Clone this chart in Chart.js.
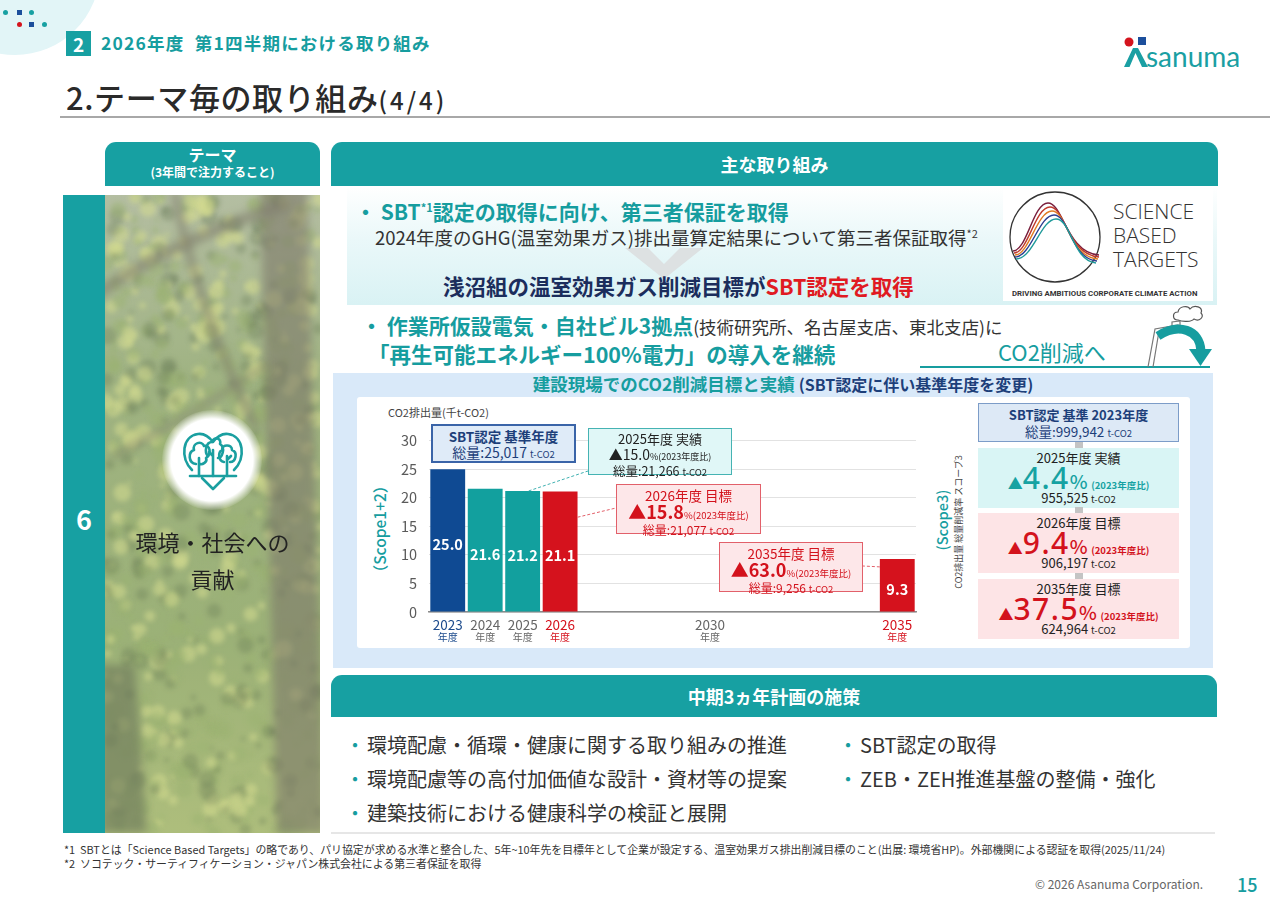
<!DOCTYPE html>
<html lang="ja">
<head>
<meta charset="utf-8">
<title>2.テーマ毎の取り組み(4/4)</title>
<script src="https://cdn.jsdelivr.net/npm/chart.js@4.4.1/dist/chart.umd.min.js"></script>
<style>
  body { margin: 0; background: #fff; }
  #slide { position: relative; width: 1280px; height: 904px; overflow: hidden;
    font-family: "Noto Sans CJK JP", "Noto Sans", sans-serif; color: #222; }
  .a { position: absolute; white-space: nowrap; line-height: 1; }
  .tab { position: absolute; background: #17a0a2; color: #fff; font-weight: bold; text-align: center; border-radius: 11px 11px 0 0; }
  .tealb { color: #169d9f; font-weight: bold; }
  .dot { position: absolute; width: 5px; height: 5px; }
  .note { position: absolute; text-align: center; box-sizing: border-box; white-space: nowrap; }
  .note.cy { background: #e0f7f7; border: 1.5px solid #45b3b3; color: #222; padding-top: 3px; }
  .note.pk { background: #fde7e9; border: 1.5px solid #e2606a; color: #d3121c; padding-top: 2px; }
  .note div { line-height: 14.5px; }
  .s3box { position: absolute; left: 0; width: 201px; height: 60px; text-align: center; white-space: nowrap; }
  .s3box.cy { background: #d9f5f5; }
  .s3box.pk { background: #fde4e6; }
  .s3t { line-height: 18px; font-size: 13px; color: #222; padding-top: 1px; }
  .s3p { line-height: 22px; height: 22px; }
  .s3v { line-height: 18px; font-size: 13px; color: #222; }
  .big { font-family: "Noto Sans", sans-serif; font-weight: 500; font-size: 30px; letter-spacing: 1.5px; }
  .u { font-size: 9.5px; }
  .conn { position: absolute; left: 97px; width: 8px; height: 6px; background: #c4c4c4; }
  .bul { position: absolute; white-space: nowrap; line-height: 1; font-size: 20px; color: #333; }
  .bul:before { content: "・"; color: #169d9f; margin-right: 2px; }
</style>
</head>
<body>
<div id="slide">

  <!-- top left deco -->
  <div class="a" style="left:-70px;top:-115px;width:170px;height:170px;border-radius:50%;background:#e2f5f7"></div>
  <div class="dot" style="left:3px;top:10px;border-radius:50%;background:#17a0a2"></div>
  <div class="dot" style="left:17px;top:10px;background:#1c4f9c"></div>
  <div class="dot" style="left:29px;top:10px;border-radius:50%;background:#17a0a2"></div>
  <div class="dot" style="left:17px;top:22px;border-radius:50%;background:#d4141d"></div>
  <div class="dot" style="left:29px;top:22px;background:#1c4f9c"></div>
  <div class="dot" style="left:42px;top:22px;border-radius:50%;background:#17a0a2"></div>

  <!-- header -->
  <div class="a" style="left:66px;top:31px;width:25px;height:25px;background:#17a0a2;color:#fff;font-weight:bold;font-size:19px;text-align:center;line-height:25px">2</div>
  <div class="a tealb" style="left:101px;top:34px;font-size:17.5px;letter-spacing:1.2px">2026年度&nbsp;&nbsp;第1四半期における取り組み</div>
  <div class="a" style="left:66px;top:81px;font-size:31px;font-weight:500;color:#2a2a2a;letter-spacing:0.6px">2.テーマ毎の取り組み<span style="font-size:24px;letter-spacing:3px">(4/4)</span></div>
  <div class="a" style="left:60px;top:116px;width:1210px;height:1.5px;background:#a8a8a8"></div>

  <!-- Asanuma logo -->
  <svg class="a" style="left:1118px;top:30px" width="130" height="44" viewBox="1118 30 130 44">
    <circle cx="1129" cy="42" r="4.5" fill="#d4141d"/>
    <rect x="1138" y="37" width="8" height="8" fill="#1c4f9c"/>
    <path d="M1124 67 L1133 48 L1138 48 L1148 67 L1142 67 L1135.5 53 L1129.5 67 Z" fill="#1a9fa3"/>
    <text x="1146" y="67" font-family="Lato, Roboto, sans-serif" font-size="28" fill="#1a9fa3">sanuma</text>
  </svg>

  <!-- tabs -->
  <div class="tab" style="left:105px;top:142px;width:215px;height:44px">
    <div style="font-size:16px;line-height:18px;padding-top:3px">テーマ</div>
    <div style="font-size:12px;line-height:17px">(3年間で注力すること)</div>
  </div>
  <div class="tab" style="left:331px;top:142px;width:887px;height:44px;font-size:18px;line-height:44px">主な取り組み</div>

  <!-- left column -->
  <div class="a" style="left:63px;top:195px;width:42px;height:638px;background:#17a0a2"></div>
  <div class="a" style="left:63px;top:505px;width:42px;text-align:center;color:#fff;font-weight:bold;font-size:27px">6</div>
  <canvas id="forest" class="a" style="left:105px;top:195px" width="215" height="638"></canvas>
  <div class="a" style="left:162px;top:410px;width:100px;height:100px;border-radius:50%;background:radial-gradient(circle, #fff 0%, #fff 58%, rgba(255,255,255,0) 72%)"></div>
  <svg class="a" style="left:178px;top:428px" width="70" height="66" viewBox="0 0 70 66">
    <g fill="none" stroke="#1a9fa0" stroke-width="2.6" stroke-linejoin="round" stroke-linecap="round">
      <path d="M24 50 L35 61 L46 50"/>
      <path d="M14 42 C2 30 4 8 20 6 C27 5 32 10 35 14 C38 10 43 5 50 6 C66 8 68 30 56 42"/>
      <path d="M18 36 C10 35 10 24 16 22 C14 15 24 12 26 18 C32 16 34 26 28 30 C30 34 24 37 22 36"/>
      <path d="M30 28 C26 24 28 14 34 14 C36 8 44 10 42 16 C48 20 44 30 40 30"/>
      <path d="M46 34 C40 33 40 24 44 22 C44 16 54 16 54 22 C60 24 58 34 52 34"/>
      <path d="M21 30 L21 48 M35 22 L35 48 M49 28 L49 48 M31 24 L35 28 M49 32 L53 28"/>
      <path d="M12 48 L58 48"/>
    </g>
  </svg>
  <div class="a" style="left:105px;top:530px;width:215px;text-align:center;font-size:22px;color:#222">環境・社会への</div>
  <div class="a" style="left:105px;top:567px;width:215px;text-align:center;font-size:22px;color:#222">貢献</div>

  <!-- bullet 1 area -->
  <div class="a" style="left:347px;top:186px;width:870px;height:119px;background:linear-gradient(180deg,#ffffff 0%,#eaf8f9 45%,#d9f2f4 100%)"></div>
  <svg class="a" style="left:620px;top:246px" width="90" height="36" viewBox="0 0 90 36">
    <path d="M5 2 L28 2 L44 18 L60 2 L83 2 L44 33 Z" fill="#dde1e2"/>
  </svg>
  <div class="a tealb" style="left:355px;top:201px;font-size:21px">・ SBT<sup style="font-size:11px;vertical-align:8px">*1</sup>認定の取得に向け、第三者保証を取得</div>
  <div class="a" style="left:375px;top:228px;font-size:18.5px;color:#333">2024年度のGHG(温室効果ガス)排出量算定結果について第三者保証取得<sup style="font-size:11px;vertical-align:7px">*2</sup></div>
  <div class="a" style="left:443px;top:275px;font-size:21.5px;font-weight:bold;color:#1b2d5c">浅沼組の温室効果ガス削減目標が<span style="color:#e01a22">SBT認定を取得</span></div>

  <!-- SBT logo -->
  <div class="a" style="left:1003px;top:189px;width:210px;height:112px;background:#fff"></div>
  <svg class="a" style="left:1003px;top:189px" width="210" height="112" viewBox="0 0 210 112">
    <circle cx="52" cy="48" r="45" fill="none" stroke="#333" stroke-width="1.3"/>
    <g fill="none" stroke-width="1.4">
      <path d="M10 62 C24 62 30 14 45 14 C60 14 64 64 96 66" stroke="#7a1f3d"/>
      <path d="M11 64 C25 64 32 18 47 18 C62 18 65 66 96 68" stroke="#c0392b"/>
      <path d="M12 66 C26 66 34 22 49 22 C64 22 66 68 95 70" stroke="#e07b22"/>
      <path d="M12 68 C28 68 36 26 51 26 C66 26 68 70 94 72" stroke="#2c3e90"/>
      <path d="M13 70 C30 70 38 30 53 30 C68 30 70 72 93 74" stroke="#1f9a9a"/>
    </g>
    <g font-family="'Open Sans', 'Noto Sans', sans-serif" font-size="21" font-weight="300" fill="#333">
      <text x="110" y="30">SCIENCE</text>
      <text x="110" y="54">BASED</text>
      <text x="110" y="78">TARGETS</text>
    </g>
    <text x="9" y="107" font-family="Roboto, sans-serif" font-size="7.8" font-weight="bold" fill="#333">DRIVING AMBITIOUS CORPORATE CLIMATE ACTION</text>
  </svg>

  <!-- bullet 2 -->
  <div class="a tealb" style="left:361px;top:315px;font-size:21px">・ 作業所仮設電気・自社ビル3拠点<span style="font-weight:normal;color:#333;font-size:17.5px">(技術研究所、名古屋支店、東北支店)に</span></div>
  <div class="a tealb" style="left:368px;top:343px;font-size:21.5px">「再生可能エネルギー100%電力」の導入を継続</div>
  <div class="a" style="left:998px;top:340px;font-size:22px;color:#169d9f">CO2削減へ</div>
  <div class="a" style="left:920px;top:366px;width:290px;height:1.5px;background:#169d9f"></div>
  <svg class="a" style="left:1142px;top:303px" width="70" height="66" viewBox="0 0 70 66">
    <path d="M36 17 C30 17 30 9 36 9 C37 3 46 2 48 6 C52 1 62 4 59 10 C63 14 57 19 52 16 C50 19 40 19 36 17 Z" fill="#fff" stroke="#555" stroke-width="1.2"/>
    <g fill="none" stroke="#777" stroke-width="1.2">
      <path d="M6 64 L13 26 L36 22 L38 30"/>
      <path d="M11 64 L17 28"/>
      <path d="M30 23 L30 19 L38 18 L38 23"/>
    </g>
    <path d="M16 33 C36 20 58 26 59 48" fill="none" stroke="#169d9f" stroke-width="9"/>
    <path d="M47 46 L70 46 L58.5 63 Z" fill="#169d9f"/>
  </svg>

  <!-- chart panel -->
  <div class="a" style="left:333px;top:373px;width:880px;height:295px;background:#d9e9f9"></div>
  <div class="a" style="left:333px;top:375px;width:900px;text-align:center;font-size:17.5px;font-weight:bold;color:#169d9f">建設現場でのCO2削減目標と実績 <span style="color:#1d3f7a;font-size:16px">(SBT認定に伴い基準年度を変更)</span></div>
  <div class="a" style="left:357px;top:397px;width:833px;height:251px;background:#fff;border-radius:3px"></div>
  <div class="a" style="left:388px;top:407px;font-size:11px;color:#444">CO2排出量(千t-CO2)</div>
  <div class="a" style="left:380px;top:529px;transform:translate(-50%,-50%) rotate(-90deg);font-size:15.5px;color:#169d9f;font-weight:500">（Scope1+2）</div>
  <canvas id="co2Chart" class="a" style="left:370px;top:420px" width="560" height="232"></canvas>
  <div id="notes"></div>

  <div class="a" style="left:942px;top:520px;transform:translate(-50%,-50%) rotate(-90deg);font-size:14.5px;color:#169d9f;font-weight:500">(Scope3)</div>
  <div class="a" style="left:958px;top:522px;transform:translate(-50%,-50%) rotate(-90deg);font-size:9px;color:#444">CO2排出量 総量削減率 スコープ3</div>
  <div class="a" id="scope3" style="left:978px;top:403px;width:201px;height:240px"></div>

  <!-- mid-term plan -->
  <div class="tab" style="left:331px;top:675px;width:886px;height:42px;font-size:18px;line-height:42px">中期3ヵ年計画の施策</div>
  <div class="bul" style="left:345px;top:735px">環境配慮・循環・健康に関する取り組みの推進</div>
  <div class="bul" style="left:345px;top:769px">環境配慮等の高付加価値な設計・資材等の提案</div>
  <div class="bul" style="left:345px;top:803px">建築技術における健康科学の検証と展開</div>
  <div class="bul" style="left:838px;top:735px">SBT認定の取得</div>
  <div class="bul" style="left:838px;top:769px">ZEB・ZEH推進基盤の整備・強化</div>
  <div class="a" style="left:331px;top:832px;width:884px;height:2px;background:#e6e6e6"></div>

  <!-- footnotes -->
  <div class="a" style="left:64px;top:844px;font-size:10.9px;color:#333">*1&nbsp;&nbsp;SBTとは「Science Based Targets」の略であり、パリ協定が求める水準と整合した、5年~10年先を目標年として企業が設定する、温室効果ガス排出削減目標のこと(出展: 環境省HP)。外部機関による認証を取得(2025/11/24)</div>
  <div class="a" style="left:64px;top:858px;font-size:10.9px;color:#333">*2&nbsp;&nbsp;ソコテック・サーティフィケーション・ジャパン株式会社による第三者保証を取得</div>
  <div class="a" style="left:1035px;top:878px;font-size:12px;color:#666">© 2026 Asanuma Corporation.</div>
  <div class="a" style="left:1237px;top:875px;font-size:18px;color:#169d9f;font-weight:500">15</div>
</div>

<script>
// Scope1+2 emissions by fiscal year (千t-CO2)
const years = ['2023', '2024', '2025', '2026', '2027', '2028', '2029', '2030', '2031', '2032', '2033', '2034', '2035'];
const shownYears = ['2023', '2024', '2025', '2026', '2030', '2035'];
const emissions = [25.0, 21.6, 21.2, 21.1, null, null, null, null, null, null, null, null, 9.3];

// call-out boxes on the bar chart
const baseTotal = '25,017';
const noteTitles = ['2025年度 実績', '2026年度 目標', '2035年度 目標'];
const noteRates = ['15.0', '15.8', '63.0'];
const noteTotals = ['21,266', '21,077', '9,256'];

// Scope3
const scope3Base = '999,942';
const scope3Titles = ['2025年度 実績', '2026年度 目標', '2035年度 目標'];
const scope3Rates = ['4.4', '9.4', '37.5'];
const scope3Totals = ['955,525', '906,197', '624,964'];

const NAVY = '#0f4a93', TEAL = '#12a09e', RED = '#d5121d';

function barColor(y) {
  if (y === '2023') return NAVY;
  if (y === '2026' || y === '2035') return RED;
  return TEAL;
}
function tickColor(y) {
  if (y === '2023') return '#1b4a8c';
  if (y === '2026' || y === '2035') return RED;
  return '#666';
}

// forest photo stand-in (just decoration)
function drawForest() {
  let c = document.getElementById('forest');
  let g = c.getContext('2d');
  let W = 215, H = 638;
  let grd = g.createLinearGradient(0, 0, 0, H);
  grd.addColorStop(0, '#a4b08e');
  grd.addColorStop(0.3, '#8aa266');
  grd.addColorStop(0.7, '#86a05a');
  grd.addColorStop(1, '#9cb060');
  g.fillStyle = grd;
  g.fillRect(0, 0, W, H);
  function h(n) { let s = Math.sin(n * 127.1 + 11.3) * 43758.5453; return s - Math.floor(s); }
  g.filter = 'blur(2.5px)';
  for (let i = 0; i < 900; i++) {
    let x = h(i) * W, y = h(i + 1000) * H, r = 2 + h(i + 2000) * 7, t = h(i + 3000);
    let yellow = 0.55 + (y / H) * 0.2;
    g.fillStyle = t < 0.25 ? 'rgba(62,86,44,0.3)' : t < yellow ? 'rgba(132,162,82,0.45)' : 'rgba(204,214,120,0.55)';
    g.beginPath();
    g.arc(x, y, r, 0, Math.PI * 2);
    g.fill();
  }
  g.filter = 'blur(4px)';
  g.fillStyle = 'rgba(96,92,74,0.6)';
  g.beginPath();
  g.moveTo(155, -10); g.lineTo(202, -10); g.lineTo(220, H); g.lineTo(172, H); g.closePath();
  g.fill();
  g.strokeStyle = 'rgba(96,94,74,0.6)';
  g.lineCap = 'round';
  g.lineWidth = 11;
  g.beginPath(); g.moveTo(-10, 100); g.quadraticCurveTo(80, 40, 180, 10); g.stroke();
  g.lineWidth = 8;
  g.beginPath(); g.moveTo(70, 0); g.quadraticCurveTo(95, 120, 150, 230); g.stroke();
  g.lineWidth = 5;
  g.beginPath(); g.moveTo(10, 260); g.quadraticCurveTo(90, 220, 160, 170); g.stroke();
  g.fillStyle = 'rgba(74,86,54,0.6)';
  g.beginPath();
  g.moveTo(-5, 470); g.lineTo(30, 470); g.lineTo(42, H); g.lineTo(-5, H); g.closePath();
  g.fill();
  g.filter = 'none';
  g.fillStyle = 'rgba(255,255,255,0.18)';
  g.fillRect(0, 0, W, H);
}
drawForest();

// call-out boxes (page positions)
let notes = document.getElementById('notes');
let sbt = document.createElement('div');
sbt.className = 'note';
sbt.style.cssText = 'left:431px;top:424px;width:145px;height:39px;background:#dfebf8;border:2px solid #3a64a8;color:#1d3f7a;padding-top:3px';
sbt.innerHTML = '<div style="font-size:13.5px;line-height:15px;font-weight:bold">SBT認定 基準年度</div>' +
  '<div style="font-size:14px;line-height:16px">総量:' + baseTotal + ' <span class="u">t-CO2</span></div>';
notes.appendChild(sbt);

let notePos = [[588, 428, 144, 47], [616, 484, 145, 50], [719, 542, 144, 50]];
for (let i = 0; i < noteTitles.length; i++) {
  let box = document.createElement('div');
  let p = notePos[i];
  box.className = 'note ' + (i === 0 ? 'cy' : 'pk');
  box.style.left = p[0] + 'px';
  box.style.top = p[1] + 'px';
  box.style.width = p[2] + 'px';
  box.style.height = p[3] + 'px';
  if (i === 0) {
    box.innerHTML = '<div style="font-size:13px">' + noteTitles[i] + '</div>' +
      '<div style="font-size:14px">▲' + noteRates[i] + '<span style="font-size:9px">%(2023年度比)</span></div>' +
      '<div style="font-size:12.5px">総量:' + noteTotals[i] + ' <span class="u">t-CO2</span></div>';
  } else {
    box.innerHTML = '<div style="font-size:13.5px;line-height:16px">' + noteTitles[i] + '</div>' +
      '<div style="line-height:16px"><span style="font-size:18px;font-weight:bold">▲' + noteRates[i] + '</span><span style="font-size:9.5px">%(2023年度比)</span></div>' +
      '<div style="font-size:12px;line-height:14px">総量:' + noteTotals[i] + ' <span class="u">t-CO2</span></div>';
  }
  notes.appendChild(box);
}

// Scope3 stack
let s3 = document.getElementById('scope3');
let head = document.createElement('div');
head.className = 's3box';
head.style.cssText = 'top:0;height:39px;background:#dde9f6;border:1px solid #7c9cc8;box-sizing:border-box;color:#1d3f7a;padding-top:3px';
head.innerHTML = '<div style="font-size:13px;line-height:16px;font-weight:bold">SBT認定 基準 2023年度</div>' +
  '<div style="font-size:13.5px;line-height:16px">総量:' + scope3Base + ' <span class="u">t-CO2</span></div>';
s3.appendChild(head);
let s3Tops = [45, 110, 176];
for (let i = 0; i < scope3Titles.length; i++) {
  let col = i === 0 ? '#16a2a2' : '#d3121c';
  let box = document.createElement('div');
  box.className = 's3box ' + (i === 0 ? 'cy' : 'pk');
  box.style.top = s3Tops[i] + 'px';
  box.innerHTML = '<div class="s3t">' + scope3Titles[i] + '</div>' +
    '<div class="s3p" style="color:' + col + '"><span style="font-size:15px">▲</span><span class="big">' + scope3Rates[i] + '</span>' +
    '<span style="font-size:19px;font-weight:500">%</span> <span style="font-size:9.5px;font-weight:bold">(2023年度比)</span></div>' +
    '<div class="s3v">' + scope3Totals[i] + ' <span class="u">t-CO2</span></div>';
  s3.appendChild(box);
  let c = document.createElement('div');
  c.className = 'conn';
  c.style.top = (s3Tops[i] - 6) + 'px';
  s3.appendChild(c);
}

// value labels, 年度 under the years, dashed leader lines
const extras = {
  id: 'extras',
  afterDatasetsDraw(chart) {
    let ctx = chart.ctx;
    let meta = chart.getDatasetMeta(0);
    let x = chart.scales.x, y = chart.scales.y;
    ctx.save();
    ctx.textAlign = 'center';
    ctx.textBaseline = 'middle';
    ctx.fillStyle = '#fff';
    ctx.font = 'bold 14.5px "Noto Sans CJK JP", sans-serif';
    meta.data.forEach(function (bar, i) {
      if (emissions[i] === null) return;
      ctx.fillText(emissions[i].toFixed(1), bar.x, (bar.y + bar.base) / 2 + 4);
    });
    ctx.font = '10px "Noto Sans CJK JP", sans-serif';
    shownYears.forEach(function (yr) {
      let i = years.indexOf(yr);
      ctx.fillStyle = tickColor(yr);
      ctx.fillText('年度', x.getPixelForValue(i), y.bottom + 25);
    });
    // leaders (box anchors in canvas px: page minus canvas origin 370,420)
    ctx.setLineDash([3, 2]);
    ctx.lineWidth = 1;
    let b25 = meta.data[2], b26 = meta.data[3], b35 = meta.data[12];
    ctx.strokeStyle = '#3fb0b0';
    ctx.beginPath();
    ctx.moveTo(b25.x + 6, b25.y);
    ctx.lineTo(218, 51);
    ctx.stroke();
    ctx.strokeStyle = '#e2606a';
    ctx.beginPath();
    ctx.moveTo(b26.x + b26.width / 2, y.getPixelForValue(16.6));
    ctx.lineTo(246, 88);
    ctx.stroke();
    ctx.beginPath();
    ctx.moveTo(b35.x - b35.width / 2, y.getPixelForValue(7.9));
    ctx.lineTo(493, 146);
    ctx.stroke();
    ctx.restore();
  }
};

Chart.defaults.font.family = '"Noto Sans CJK JP", "Noto Sans", sans-serif';

new Chart(document.getElementById('co2Chart'), {
  type: 'bar',
  data: {
    labels: years,
    datasets: [{
      data: emissions,
      backgroundColor: years.map(barColor),
      borderWidth: 0,
      barPercentage: 0.93,
      categoryPercentage: 1
    }]
  },
  options: {
    responsive: false,
    animation: false,
    layout: { padding: { top: 20, right: 14, left: 0, bottom: 0 } },
    plugins: { legend: { display: false }, tooltip: { enabled: false } },
    scales: {
      x: {
        grid: { display: false, drawTicks: false },
        border: { display: true, color: '#8c8c8c', width: 1.5 },
        ticks: {
          autoSkip: false,
          maxRotation: 0,
          padding: 5,
          font: { size: 13.5 },
          color: function (c) { return tickColor(years[c.index]); },
          callback: function (v, i) { return shownYears.includes(years[i]) ? years[i] : ''; }
        },
        afterFit: function (s) { s.height = 40; }
      },
      y: {
        min: 0,
        max: 30,
        ticks: { stepSize: 5, padding: 12, font: { size: 14.5 }, color: '#5a5a5a' },
        grid: { color: '#e2e2e2', drawTicks: false },
        border: { display: false },
        afterFit: function (s) { s.width = 59; }
      }
    }
  },
  plugins: [extras]
});
</script>
</body>
</html>
